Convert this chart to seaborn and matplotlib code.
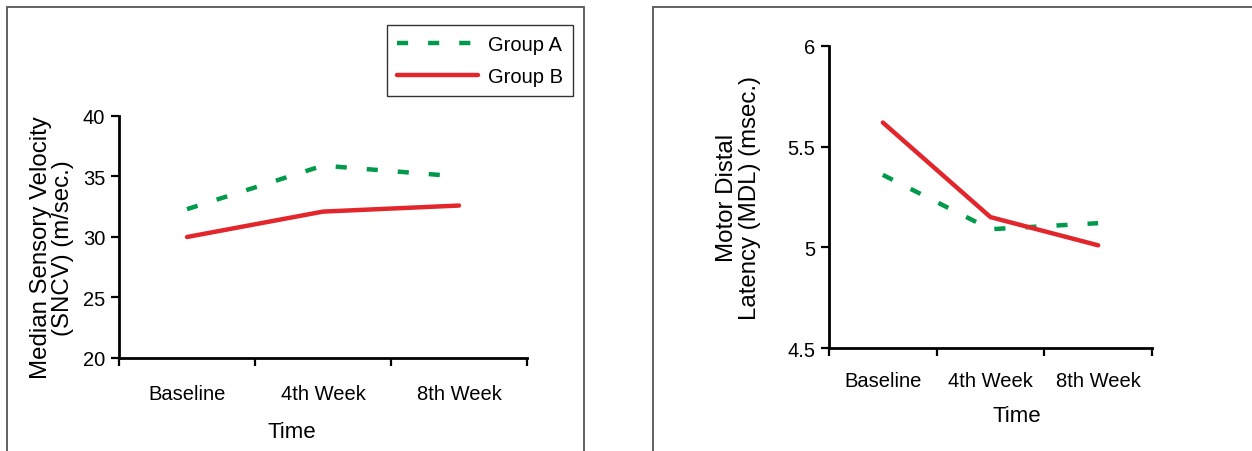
import seaborn as sns
import matplotlib.pyplot as plt
import pandas as pd
from matplotlib.patches import Rectangle

# data
times = ['Baseline', '4th Week', '8th Week']
groups = ['Group A', 'Group B']
sncv_a = [32.3, 35.9, 35.0]
sncv_b = [30.0, 32.1, 32.6]
mdl_a = [5.36, 5.09, 5.12]
mdl_b = [5.62, 5.15, 5.01]
sncv_ticks = [20, 25, 30, 35, 40]
mdl_ticks = [4.5, 5, 5.5, 6]
mdl_ticklabels = ['4.5', '5', '5.5', '6']

sncv = pd.DataFrame({'Time': times * 2, 'Group': ['Group A'] * 3 + ['Group B'] * 3,
                     'value': sncv_a + sncv_b})
mdl = pd.DataFrame({'Time': times * 2, 'Group': ['Group A'] * 3 + ['Group B'] * 3,
                    'value': mdl_a + mdl_b})

sns.set_style('white')
plt.rcParams['font.family'] = ['Liberation Sans', 'DejaVu Sans']
plt.rcParams['text.color'] = 'black'
plt.rcParams['axes.labelcolor'] = 'black'
plt.rcParams['xtick.color'] = 'black'
plt.rcParams['ytick.color'] = 'black'

palette = {'Group A': '#009a4a', 'Group B': '#e2262b'}
dashes = {'Group A': (2.5, 4.5), 'Group B': ''}

fig = plt.figure(figsize=(12.52, 4.52), dpi=100)
ax1 = fig.add_axes([119 / 1252, 1 - 359 / 452, 408 / 1252, 242 / 452])
ax2 = fig.add_axes([829 / 1252, 1 - 349 / 452, 323 / 1252, 302 / 452])

# outer frames of the two panels
fig.patches.append(Rectangle((7 / 1252, -0.1), 577 / 1252, 1.1 - 8 / 452, transform=fig.transFigure,
                             fill=False, edgecolor='#555555', lw=1.3))
fig.patches.append(Rectangle((653 / 1252, -0.1), 0.5, 1.1 - 8 / 452, transform=fig.transFigure,
                             fill=False, edgecolor='#555555', lw=1.3))


def style_axis(ax, data, ylabel, ticks, ticklabels, ylim, tpad, xpad, ypad, show_leg):
    sns.lineplot(data=data, x='Time', y='value', hue='Group', style='Group',
                 palette=palette, dashes=dashes, linewidth=3.2, ax=ax, legend=show_leg)
    ax.set_xlim(-0.5, 2.5)
    ax.set_ylim(*ylim)
    ax.set_xticks([-0.5, 0.5, 1.5, 2.5])
    ax.set_xticklabels([])
    ax.set_xticks([0, 1, 2], minor=True)
    ax.set_xticklabels(times, minor=True, fontsize=14.5)
    ax.tick_params(axis='x', which='major', direction='out', length=6, width=1.6, bottom=True)
    ax.tick_params(axis='x', which='minor', length=0, pad=tpad)
    ax.set_yticks(ticks)
    ax.set_yticklabels(ticklabels, fontsize=14.5)
    ax.tick_params(axis='y', direction='out', length=6, width=1.6, left=True, pad=4)
    for s in ['top', 'right']:
        ax.spines[s].set_visible(False)
    for s in ['left', 'bottom']:
        ax.spines[s].set_color('black')
        ax.spines[s].set_linewidth(2)
    ax.set_xlabel('Time', fontsize=16, labelpad=xpad)
    ax.set_ylabel(ylabel, fontsize=17.3, labelpad=ypad, linespacing=1.05)


style_axis(ax1, sncv, 'Median Sensory Velocity\n(SNCV) (m/sec.)', sncv_ticks,
           [str(t) for t in sncv_ticks], (20, 40), 19, 13, 6, True)
style_axis(ax2, mdl, 'Motor Distal\nLatency (MDL) (msec.)', mdl_ticks, mdl_ticklabels,
           (4.5, 6), 16.5, 11, 19, False)

# the axis titles are not centred in the original
ax1.xaxis.label.set_x(0.424)
ax1.yaxis.label.set_y(0.46)
ax2.xaxis.label.set_x(0.58)

handles, labels = ax1.get_legend_handles_labels()
ax1.get_legend().remove()
leg = fig.legend(handles, labels, loc='upper right', bbox_to_anchor=(573 / 1252, 1 - 26 / 452),
                 fontsize=14.5, frameon=True, fancybox=False, edgecolor='black', borderaxespad=0,
                 handlelength=4.0, handletextpad=0.5, borderpad=0.5, labelspacing=0.65)
leg.get_frame().set_linewidth(1.0)

plt.savefig('out.png', dpi=100)
